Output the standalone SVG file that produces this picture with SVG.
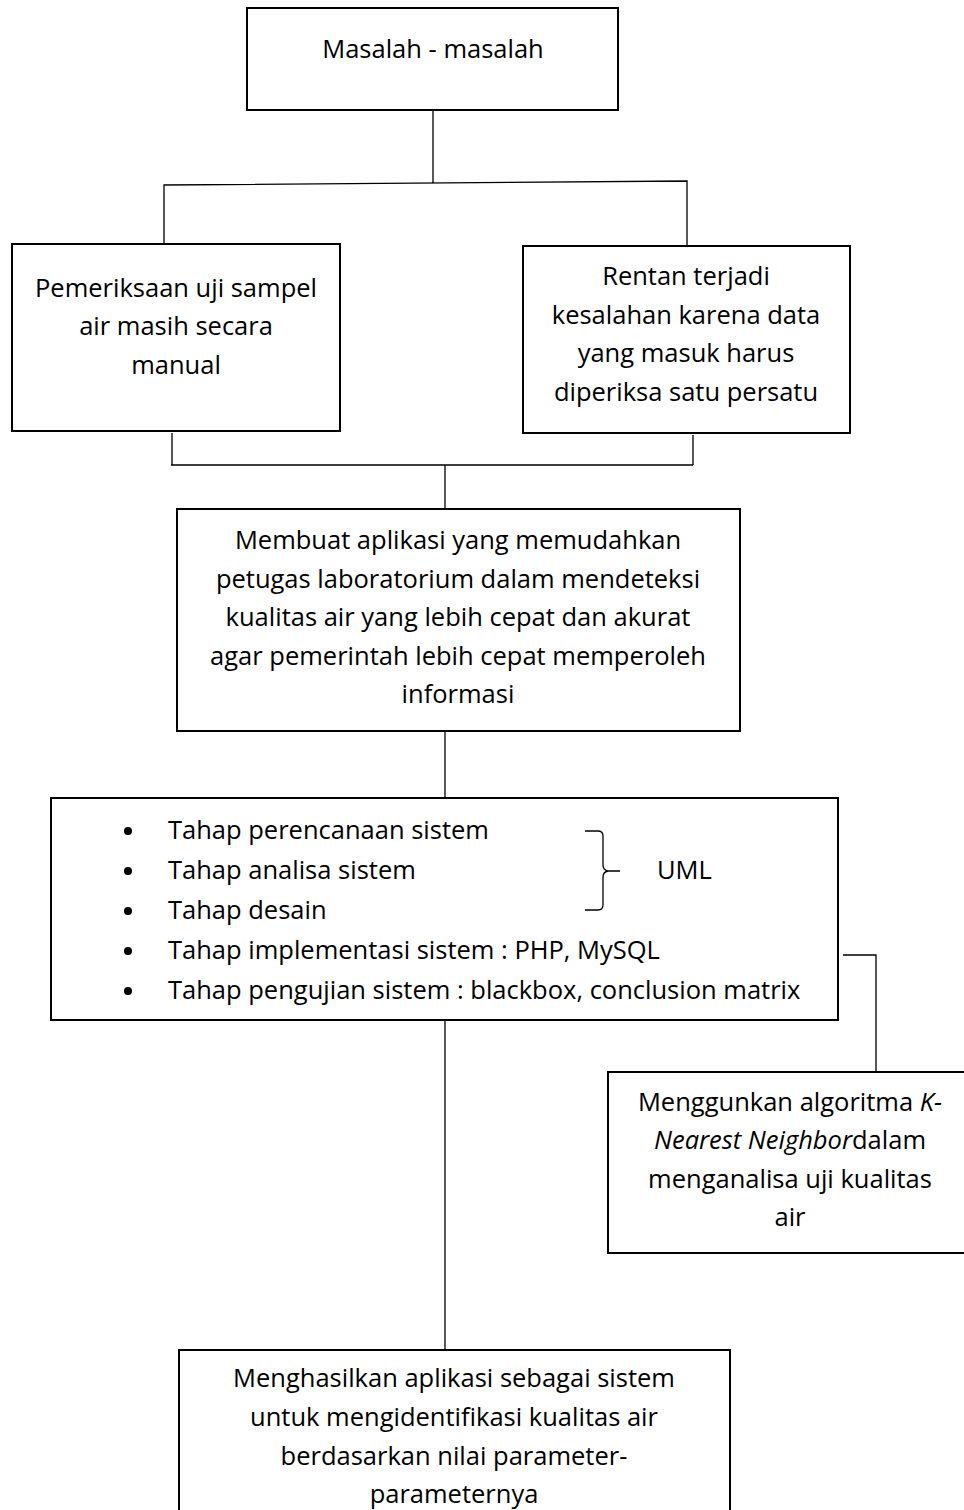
<svg xmlns="http://www.w3.org/2000/svg" width="964" height="1510" viewBox="0 0 964 1510">
<style>
.box{fill:#fff;stroke:#000;stroke-width:2}
.con{fill:none;stroke:#000;stroke-width:1.3}
text{font-family:"Open Sans","Noto Sans",sans-serif;font-size:25.5px;fill:#000}
.c{text-anchor:middle}
</style>
<rect width="964" height="1510" fill="#fff"/>
<g id="connectors">
<path class="con" d="M433 110V183M164 244V185L687 181V246"/>
<path class="con" d="M172 433V465M693 435V465M171 465H693M445 465V509"/>
<path class="con" d="M445 731V798"/>
<path class="con" d="M843 955H876V1072"/>
<path class="con" d="M445 1020V1350"/>
</g>
<g id="masalah">
<rect class="box" x="247" y="8" width="371" height="102"/>
<text class="c" x="433" y="58">Masalah - masalah</text>
</g>
<g id="manual">
<rect class="box" x="12" y="244" width="328" height="187"/>
<text class="c" x="176" y="297">Pemeriksaan uji sampel</text>
<text class="c" x="176" y="335">air masih secara</text>
<text class="c" x="176" y="374">manual</text>
</g>
<g id="rentan">
<rect class="box" x="523" y="246" width="327" height="187"/>
<text class="c" x="686" y="285">Rentan terjadi</text>
<text class="c" x="686" y="324">kesalahan karena data</text>
<text class="c" x="686" y="362">yang masuk harus</text>
<text class="c" x="686" y="401">diperiksa satu persatu</text>
</g>
<g id="tujuan">
<rect class="box" x="177" y="509" width="563" height="222"/>
<text class="c" x="458" y="549">Membuat aplikasi yang memudahkan</text>
<text class="c" x="458" y="588">petugas laboratorium dalam mendeteksi</text>
<text class="c" x="458" y="626">kualitas air yang lebih cepat dan akurat</text>
<text class="c" x="458" y="665">agar pemerintah lebih cepat memperoleh</text>
<text class="c" x="458" y="703">informasi</text>
</g>
<g id="tahap">
<rect class="box" x="51" y="798" width="787" height="222"/>
<g fill="#000">
<circle cx="128" cy="831" r="4"/>
<circle cx="128" cy="871" r="4"/>
<circle cx="128" cy="911" r="4"/>
<circle cx="128" cy="951" r="4"/>
<circle cx="128" cy="991" r="4"/>
</g>
<text x="168" y="839">Tahap perencanaan sistem</text>
<text x="168" y="879">Tahap analisa sistem</text>
<text x="168" y="919">Tahap desain</text>
<text x="168" y="959">Tahap implementasi sistem : PHP, MySQL</text>
<text x="168" y="999">Tahap pengujian sistem : blackbox, conclusion matrix</text>
<path fill="none" stroke="#000" stroke-width="1.3" d="M585 831H598Q603 831 603 836V865Q603 870 608 871H620M608 871Q603 872 603 877V905Q603 910 598 910H585"/>
<text x="657" y="879">UML</text>
</g>
<g id="knn">
<rect class="box" x="608" y="1072" width="362" height="181"/>
<text class="c" x="790" y="1111">Menggunkan algoritma <tspan font-style="italic">K-</tspan></text>
<text class="c" x="790" y="1149"><tspan font-style="italic">Nearest Neighbor</tspan>dalam</text>
<text class="c" x="790" y="1188">menganalisa uji kualitas</text>
<text class="c" x="790" y="1226">air</text>
</g>
<g id="hasil">
<rect class="box" x="179" y="1350" width="551" height="170"/>
<text class="c" x="454" y="1387">Menghasilkan aplikasi sebagai sistem</text>
<text class="c" x="454" y="1426">untuk mengidentifikasi kualitas air</text>
<text class="c" x="454" y="1465">berdasarkan nilai parameter-</text>
<text class="c" x="454" y="1503">parameternya</text>
</g>
</svg>
